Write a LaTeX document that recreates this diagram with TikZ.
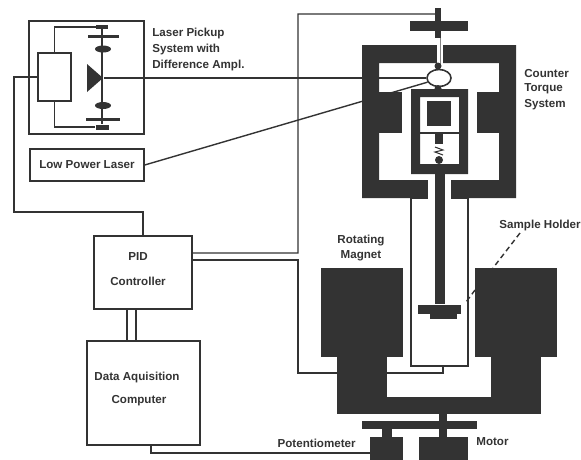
\documentclass[tikz,border=0pt]{standalone}
\usepackage{fontspec}
\setmainfont{Liberation Sans}
\usetikzlibrary{shapes.geometric}
\definecolor{ink}{HTML}{333333}
\tikzset{
	wire/.style={draw=ink, line width=0.6pt},
	panel/.style={draw=ink, line width=0.8pt, inner sep=0pt},
	slab/.style={fill=ink, inner sep=0pt},
	caption/.style={text=ink, font=\bfseries\fontsize{6.6}{8}\selectfont, inner sep=0pt},
	leftcaption/.style={caption, anchor=west}
}
\begin{document}
\begin{tikzpicture}[scale=0.2]
	\useasboundingbox (0,0) rectangle (58.1,-45.9);
	% laser pickup
	\node (pickup) [panel, minimum width=2.3cm, minimum height=2.26cm] at (8.65,-7.75) {};
	\node (amp) [panel, minimum width=0.66cm, minimum height=0.96cm] at (5.45,-7.7) {};
	\node (detup) [slab, minimum width=0.24cm, minimum height=0.08cm] at (10.2,-2.7) {};
	\node (detdown) [slab, minimum width=0.26cm, minimum height=0.1cm] at (10.2,-12.7) {};
	\coordinate (axis) at (10.4,-7.8);
	\draw [wire] (amp.north) |- (detup.west);
	\draw [wire] (amp.south) |- (detdown.west);
	\draw [wire] (detup) -- (detdown);
	\fill [ink] (8.7,-6.4) -- (10.3,-7.8) -- (8.7,-9.2);
	\fill [ink] (8.8,-3.5) rectangle (11.9,-3.75);
	\fill [ink] (8.6,-11.75) rectangle (12,-12.05);
	\fill [ink] (10.3,-4.9) ellipse (0.8 and 0.35);
	\fill [ink] (10.3,-10.55) ellipse (0.8 and 0.35);
	% boxes on the left
	\node (laser) [panel, minimum width=2.28cm, minimum height=0.64cm] at (8.7,-16.5) {};
	\node (pid) [panel, minimum width=1.96cm, minimum height=1.46cm] at (14.3,-27.25) {};
	\node (data) [panel, minimum width=2.26cm, minimum height=2.08cm] at (14.35,-39.3) {};
	\coordinate (stemtop) at (43.6,-1.4);
	\node (tube) [panel, minimum width=1.14cm, minimum height=3.36cm] at (43.95,-28.2) {};
	% counter torque
	\node (mirror) [ellipse, draw=ink, line width=0.9pt, fill=white, inner sep=0pt, minimum width=0.48cm, minimum height=0.34cm] at (43.9,-7.8) {};
	% connectors
	\draw [wire] (amp.west) -| (1.4,-21.2) -| (pid.north);
	\draw [wire] (axis) -- (mirror.west);
	\draw [wire, line width=0.8pt] (laser.east) -- (mirror.200);
	\draw [wire] (pid.east |- 0,-25.3) -| (29.8,-1.4) -- (stemtop);
	\draw [wire] (pid.east |- 0,-26) -| (29.8,-37.3) -| (44.3,-36.6);
	\draw [wire] (12.7,0 |- pid.south) -- (12.7,0 |- data.north);
	\draw [wire] (13.6,0 |- pid.south) -- (13.6,0 |- data.north);
	\fill [ink, even odd rule] (36.2,-4.5) rectangle (51.6,-19.8)
		(37.9,-6.3) rectangle (49.9,-18);
	\fill [white] (42.8,-17.9) rectangle (45.1,-19.9);
	\fill [white] (43.7,-4.4) rectangle (44.3,-6.4);
	\draw [ink!60, line width=0.3pt] (44,-3.8) -- (44,-6.4);
	\fill [ink] (36.2,-9.2) rectangle (40.2,-13.3);
	\fill [ink] (47.7,-9.2) rectangle (49.95,-13.3);
	\fill [ink, even odd rule] (41.1,-8.9) rectangle (46.8,-17.4)
		(42,-9.7) rectangle (45.9,-16.4);
	\draw [wire] (42,-13.3) -- (45.9,-13.3);
	\fill [ink] (42.7,-10.1) rectangle (45.1,-12.6);
	\fill [ink] (43.5,-13.4) rectangle (44.3,-14.4);
	\draw [wire] (43.5,-14.7) -- (44.3,-15) -- (43.5,-15.2) -- (44.3,-15.5);
	\fill [ink] (43.9,-16) circle (0.4);
	\fill [ink] (43.5,-0.8) rectangle (44.1,-3.8);
	\fill [ink] (41,-2.1) rectangle (46.8,-3.1);
	\fill [ink] (43.8,-6.6) circle (0.35);
	\fill [ink] (43.8,-8.85) circle (0.35);
	% rod and holder
	\fill [ink] (43.5,-17.4) rectangle (44.5,-30.4);
	\fill [ink] (41.8,-30.5) rectangle (46.1,-31.4);
	\fill [ink] (43,-31.4) rectangle (45.7,-31.9);
	% rotating magnet
	\fill [ink] (32.1,-26.8) rectangle (40.3,-35.7);
	\fill [ink] (47.5,-26.8) rectangle (55.7,-35.7);
	\fill [ink] (33.7,-35.6) rectangle (38.7,-41.4);
	\fill [ink] (49.1,-35.6) rectangle (54.1,-41.4);
	\fill [ink] (33.7,-39.7) rectangle (54.1,-41.4);
	\fill [ink] (43.9,-41.4) rectangle (44.7,-42.2);
	\fill [ink] (36.2,-42.1) rectangle (47.7,-42.9);
	\fill [ink] (38.2,-42.9) rectangle (39.2,-43.7);
	\fill [ink] (43.9,-42.9) rectangle (44.7,-43.7);
	\node (potblock) [slab, minimum width=0.66cm, minimum height=0.64cm] at (38.65,-45.3) {};
	\node (motorblock) [slab, minimum width=0.98cm, minimum height=0.64cm] at (44.35,-45.3) {};
	\draw [wire] (15.1,0 |- data.south) |- (potblock.west);
	\draw [wire, densely dashed, line width=0.8pt] (52,-23.3) -- (49.3,-26.8);
	\draw [wire, densely dashed, line width=0.8pt] (47.5,-29) -- (46.6,-30.2);
	% labels
	\node (pickuptexta) [leftcaption] at (15.2,-3.3) {Laser Pickup};
	\node (pickuptextb) [leftcaption] at (15.2,-4.9) {System with};
	\node (pickuptextc) [leftcaption] at (15.2,-6.5) {Difference Ampl.};
	\node (lasertext) [caption] at (laser) {Low Power Laser};
	\node (countertexta) [leftcaption] at (52.4,-7.3) {Counter};
	\node (countertextb) [leftcaption] at (52.4,-8.9) {Torque};
	\node (countertextc) [leftcaption] at (52.4,-10.5) {System};
	\node (magnettexta) [caption] at (36.1,-24.1) {Rotating};
	\node (magnettextb) [caption] at (36.1,-25.6) {Magnet};
	\node (holdertext) [caption, anchor=east] at (58.1,-22.5) {Sample Holder};
	\node (pidtexta) [caption] at (13.8,-25.6) {PID};
	\node (pidtextb) [caption] at (13.8,-28.1) {Controller};
	\node (datatexta) [caption] at (13.7,-37.7) {Data Aquisition};
	\node (datatextb) [caption] at (13.9,-40.1) {Computer};
	\node (pottext) [caption, anchor=east] at (35.6,-44.3) {Potentiometer};
	\node (motortext) [leftcaption] at (47.6,-44.2) {Motor};
\end{tikzpicture}
\end{document}
